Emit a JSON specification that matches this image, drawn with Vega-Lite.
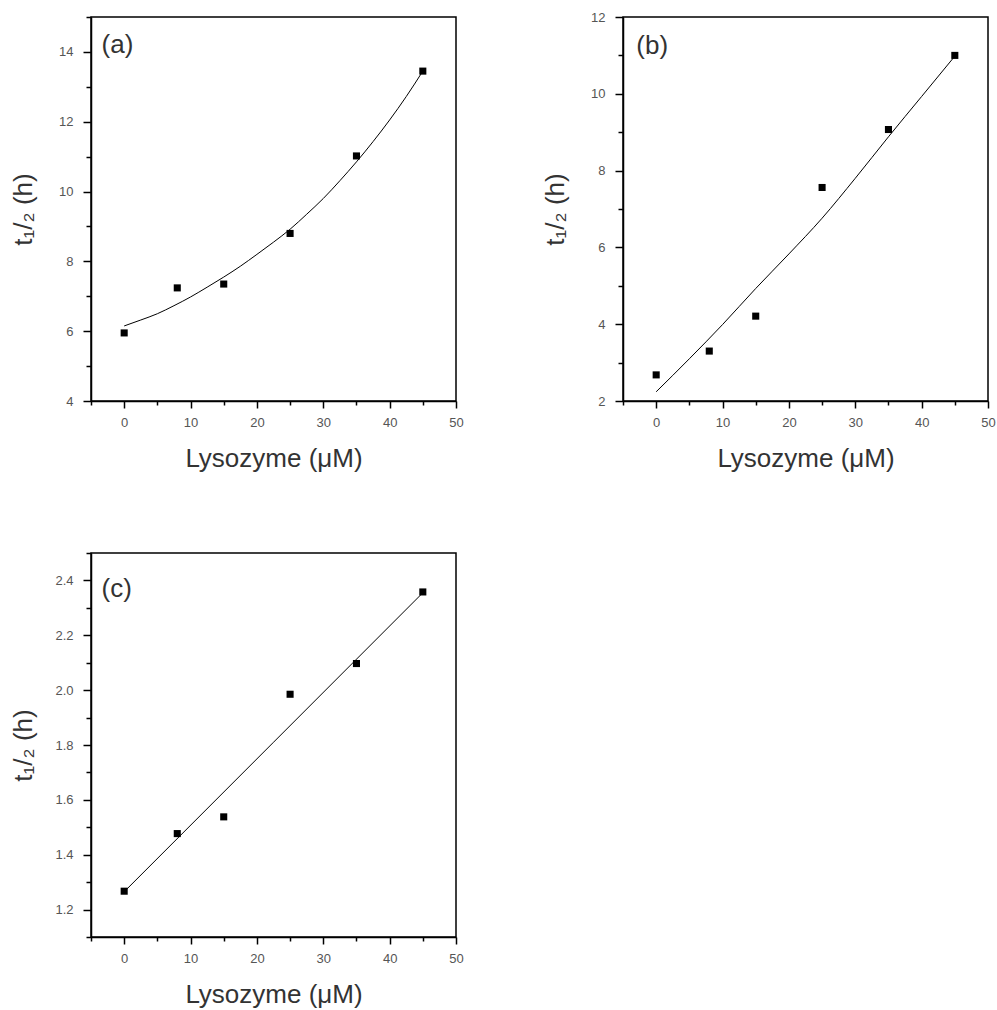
{
  "$schema": "https://vega.github.io/schema/vega-lite/v6.json",
  "padding": {"left": 9, "top": 10, "right": 5, "bottom": 5},
  "background": "white",
  "columns": 2,
  "bounds": "flush",
  "spacing": {"row": 152, "column": 167},
  "datasets": {
    "pts": [
      {"panel": "a", "x": 0, "y": 5.95}, {"panel": "a", "x": 8, "y": 7.24}, {"panel": "a", "x": 15, "y": 7.35},
      {"panel": "a", "x": 25, "y": 8.8}, {"panel": "a", "x": 35, "y": 11.02}, {"panel": "a", "x": 45, "y": 13.45},
      {"panel": "b", "x": 0, "y": 2.68}, {"panel": "b", "x": 8, "y": 3.3}, {"panel": "b", "x": 15, "y": 4.21},
      {"panel": "b", "x": 25, "y": 7.56}, {"panel": "b", "x": 35, "y": 9.07}, {"panel": "b", "x": 45, "y": 11.0},
      {"panel": "c", "x": 0, "y": 1.267}, {"panel": "c", "x": 8, "y": 1.477}, {"panel": "c", "x": 15, "y": 1.538},
      {"panel": "c", "x": 25, "y": 1.985}, {"panel": "c", "x": 35, "y": 2.097}, {"panel": "c", "x": 45, "y": 2.358}
    ],
    "fit": [
      {"panel": "a", "x": 0, "y": 6.15}, {"panel": "a", "x": 2.5, "y": 6.32}, {"panel": "a", "x": 5, "y": 6.5},
      {"panel": "a", "x": 7.5, "y": 6.73}, {"panel": "a", "x": 10, "y": 6.98}, {"panel": "a", "x": 12.5, "y": 7.26},
      {"panel": "a", "x": 15, "y": 7.55}, {"panel": "a", "x": 17.5, "y": 7.86}, {"panel": "a", "x": 20, "y": 8.2},
      {"panel": "a", "x": 22.5, "y": 8.55}, {"panel": "a", "x": 25, "y": 8.92}, {"panel": "a", "x": 27.5, "y": 9.35},
      {"panel": "a", "x": 30, "y": 9.8}, {"panel": "a", "x": 32.5, "y": 10.31}, {"panel": "a", "x": 35, "y": 10.85},
      {"panel": "a", "x": 37.5, "y": 11.43}, {"panel": "a", "x": 40, "y": 12.05}, {"panel": "a", "x": 42.5, "y": 12.72},
      {"panel": "a", "x": 45, "y": 13.45},
      {"panel": "b", "x": 0, "y": 2.24}, {"panel": "b", "x": 5, "y": 3.1}, {"panel": "b", "x": 10, "y": 3.99},
      {"panel": "b", "x": 15, "y": 4.93}, {"panel": "b", "x": 20, "y": 5.83}, {"panel": "b", "x": 25, "y": 6.76},
      {"panel": "b", "x": 30, "y": 7.8}, {"panel": "b", "x": 35, "y": 8.88}, {"panel": "b", "x": 40, "y": 9.93},
      {"panel": "b", "x": 45, "y": 10.98},
      {"panel": "c", "x": 0, "y": 1.265}, {"panel": "c", "x": 22.5, "y": 1.81}, {"panel": "c", "x": 45, "y": 2.355}
    ]
  },
  "config": {
    "font": "Liberation Sans",
    "view": {"stroke": "#000", "strokeWidth": 1.5},
    "axis": {
      "grid": false,
      "domainColor": "#000",
      "domainWidth": 1.5,
      "tickColor": "#000",
      "tickWidth": 1.5,
      "tickCount": 40,
      "labelOverlap": false,
      "labelFont": "Liberation Sans",
      "labelFontSize": 13,
      "labelColor": "#555",
      "titleFont": "Liberation Sans",
      "titleFontSize": 26,
      "titleFontWeight": "normal",
      "titleColor": "#333"
    },
    "axisX": {"labelPadding": 8, "titlePadding": 16, "labelFlush": false},
    "axisY": {"labelPadding": 10, "titlePadding": 21, "minExtent": 34, "maxExtent": 34}
  },
  "concat": [
    {
      "width": 365,
      "height": 384,
      "layer": [
        {
          "data": {"name": "fit"},
          "transform": [{"filter": "datum.panel === 'a'"}],
          "mark": {"type": "line", "color": "#000", "strokeWidth": 1, "interpolate": "monotone"},
          "encoding": {
            "x": {"field": "x", "type": "quantitative", "scale": {"domain": [-5, 50], "nice": false},
              "axis": {"title": "Lysozyme (μM)", "tickCount": 40, "format": "d", "values": [-5, 0, 5, 10, 15, 20, 25, 30, 35, 40, 45, 50],
                "labelExpr": "abs(datum.value % 10) < 0.01 ? datum.label : ''",
                "tickSize": {"condition": {"test": "abs(datum.value % 10) < 0.01", "value": 7}, "value": 4}}},
            "y": {"field": "y", "type": "quantitative", "scale": {"domain": [4, 15], "nice": false, "zero": false},
              "axis": {"title": "t₁/₂ (h)", "tickCount": 40, "format": "d", "values": [4, 5, 6, 7, 8, 9, 10, 11, 12, 13, 14, 15],
                "labelExpr": "round(datum.value) % 2 == 0 && datum.value < 14.5 ? datum.label : ''",
                "tickSize": {"condition": {"test": "round(datum.value) % 2 == 0", "value": 8}, "value": 5}}}
          }
        },
        {
          "data": {"name": "pts"},
          "transform": [{"filter": "datum.panel === 'a'"}],
          "mark": {"type": "square", "color": "#000", "size": 50, "opacity": 1},
          "encoding": {
            "x": {"field": "x", "type": "quantitative"},
            "y": {"field": "y", "type": "quantitative"}
          }
        },
        {
          "data": {"values": [{}]},
          "mark": {"type": "text", "align": "left", "baseline": "middle", "fontSize": 26, "color": "#333", "font": "Liberation Sans"},
          "encoding": {
            "x": {"datum": -3.4, "type": "quantitative"},
            "y": {"datum": 14.2, "type": "quantitative"},
            "text": {"value": "(a)"}
          }
        }
      ]
    },
    {
      "width": 365,
      "height": 384,
      "layer": [
        {
          "data": {"name": "fit"},
          "transform": [{"filter": "datum.panel === 'b'"}],
          "mark": {"type": "line", "color": "#000", "strokeWidth": 1, "interpolate": "monotone"},
          "encoding": {
            "x": {"field": "x", "type": "quantitative", "scale": {"domain": [-5, 50], "nice": false},
              "axis": {"title": "Lysozyme (μM)", "tickCount": 40, "format": "d", "values": [-5, 0, 5, 10, 15, 20, 25, 30, 35, 40, 45, 50],
                "labelExpr": "abs(datum.value % 10) < 0.01 ? datum.label : ''",
                "tickSize": {"condition": {"test": "abs(datum.value % 10) < 0.01", "value": 7}, "value": 4}}},
            "y": {"field": "y", "type": "quantitative", "scale": {"domain": [2, 12], "nice": false, "zero": false},
              "axis": {"title": "t₁/₂ (h)", "tickCount": 40, "format": "d", "values": [2, 3, 4, 5, 6, 7, 8, 9, 10, 11, 12],
                "labelExpr": "round(datum.value) % 2 == 0 ? datum.label : ''",
                "tickSize": {"condition": {"test": "round(datum.value) % 2 == 0", "value": 8}, "value": 5}}}
          }
        },
        {
          "data": {"name": "pts"},
          "transform": [{"filter": "datum.panel === 'b'"}],
          "mark": {"type": "square", "color": "#000", "size": 50, "opacity": 1},
          "encoding": {
            "x": {"field": "x", "type": "quantitative"},
            "y": {"field": "y", "type": "quantitative"}
          }
        },
        {
          "data": {"values": [{}]},
          "mark": {"type": "text", "align": "left", "baseline": "middle", "fontSize": 26, "color": "#333", "font": "Liberation Sans"},
          "encoding": {
            "x": {"datum": -3.0, "type": "quantitative"},
            "y": {"datum": 11.245, "type": "quantitative"},
            "text": {"value": "(b)"}
          }
        }
      ]
    },
    {
      "width": 365,
      "height": 384,
      "layer": [
        {
          "data": {"name": "fit"},
          "transform": [{"filter": "datum.panel === 'c'"}],
          "mark": {"type": "line", "color": "#000", "strokeWidth": 1},
          "encoding": {
            "x": {"field": "x", "type": "quantitative", "scale": {"domain": [-5, 50], "nice": false},
              "axis": {"title": "Lysozyme (μM)", "tickCount": 40, "format": "d", "values": [-5, 0, 5, 10, 15, 20, 25, 30, 35, 40, 45, 50],
                "labelExpr": "abs(datum.value % 10) < 0.01 ? datum.label : ''",
                "tickSize": {"condition": {"test": "abs(datum.value % 10) < 0.01", "value": 7}, "value": 4}}},
            "y": {"field": "y", "type": "quantitative", "scale": {"domain": [1.1, 2.5], "nice": false, "zero": false},
              "axis": {"title": "t₁/₂ (h)", "tickCount": 40, "values": [1.1, 1.2, 1.3, 1.4, 1.5, 1.6, 1.7, 1.8, 1.9, 2.0, 2.1, 2.2, 2.3, 2.4, 2.5],
                "format": ".1f",
                "labelExpr": "round(datum.value * 10) % 2 == 0 && datum.value < 2.45 ? datum.label : ''",
                "tickSize": {"condition": {"test": "round(datum.value * 10) % 2 == 0", "value": 8}, "value": 5}}}
          }
        },
        {
          "data": {"name": "pts"},
          "transform": [{"filter": "datum.panel === 'c'"}],
          "mark": {"type": "square", "color": "#000", "size": 50, "opacity": 1},
          "encoding": {
            "x": {"field": "x", "type": "quantitative"},
            "y": {"field": "y", "type": "quantitative"}
          }
        },
        {
          "data": {"values": [{}]},
          "mark": {"type": "text", "align": "left", "baseline": "middle", "fontSize": 26, "color": "#333", "font": "Liberation Sans"},
          "encoding": {
            "x": {"datum": -3.4, "type": "quantitative"},
            "y": {"datum": 2.368, "type": "quantitative"},
            "text": {"value": "(c)"}
          }
        }
      ]
    }
  ]
}
